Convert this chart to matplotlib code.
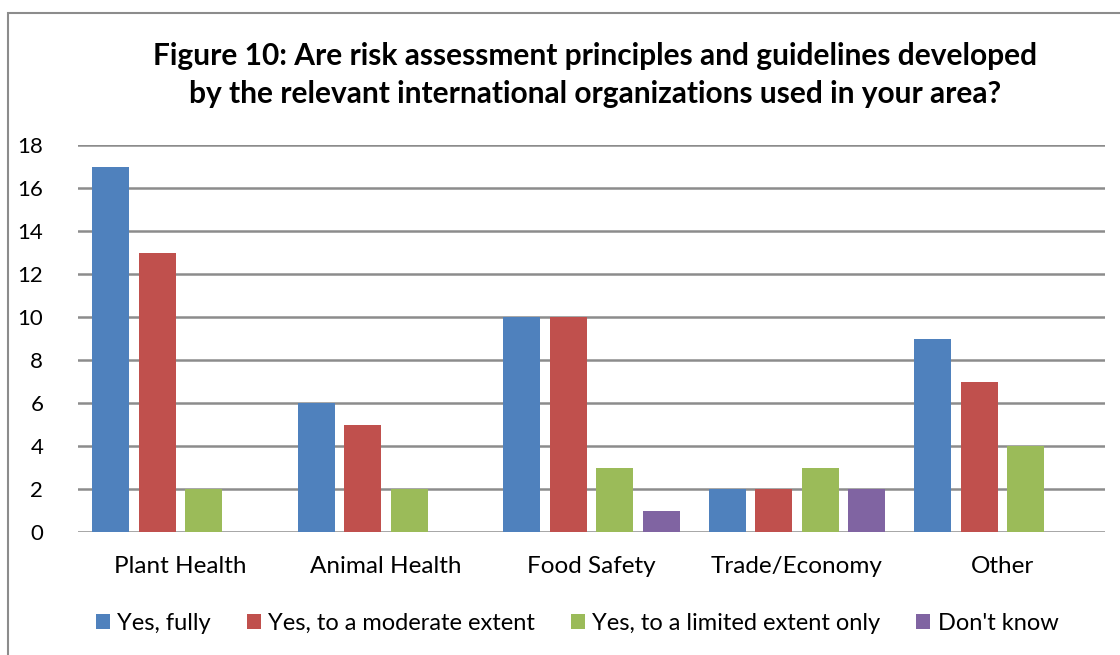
import numpy as np
import matplotlib
matplotlib.use('Agg')
import matplotlib.pyplot as plt
from matplotlib.patches import Rectangle

plt.rcParams['font.family'] = ['Lato', 'DejaVu Sans']

categories = ['Plant Health', 'Animal Health', 'Food Safety', 'Trade/Economy', 'Other']
series_names = ['Yes, fully', 'Yes, to a moderate extent',
                'Yes, to a limited extent only', "Don't know"]
fully = [17, 6, 10, 2, 9]
moderate = [13, 5, 10, 2, 7]
limited = [2, 2, 3, 3, 4]
dont_know = [0, 0, 1, 2, 0]
colors = ['#4F81BD', '#C0504D', '#9BBB59', '#8064A2']

title = ('Figure 10: Are risk assessment principles and guidelines developed\n'
         'by the relevant international organizations used in your area?')

W, H = 1120, 655
fig = plt.figure(figsize=(W / 100, H / 100), dpi=100)

# chart frame (cut off at right and bottom like the source screenshot)
fig.patches.append(Rectangle((8 / W, -0.1), 1.2, 1 - 13 / H + 0.1,
                             transform=fig.transFigure, fill=False,
                             edgecolor='#8C8C8C', linewidth=1.5))

ax = fig.add_axes([78 / W, 1 - 532 / H, (1105 - 78) / W, (532 - 145) / H])

x = np.arange(len(categories))
width = 0.18
pitch = 0.2264
all_series = [fully, moderate, limited, dont_know]
handles = []
for i, (vals, col, name) in enumerate(zip(all_series, colors, series_names)):
    bars = ax.bar(x + (i - 1.5) * pitch, vals, width, color=col, label=name,
                  linewidth=0, zorder=3)
    handles.append(bars)

ax.set_xlim(-0.5, len(categories) - 0.5)
ax.set_ylim(0, 18)
ax.set_yticks(range(0, 19, 2))
ax.yaxis.grid(True, color='#8C8C8C', linewidth=1.8, zorder=0)
ax.set_axisbelow(True)
for s in ax.spines.values():
    s.set_visible(False)
ax.tick_params(axis='y', length=0, pad=25, labelsize=16)
ax.tick_params(axis='x', length=0, pad=17, labelsize=17.5)
ax.set_xticks(x)
ax.set_xticklabels(categories)

fig.text(595 / W, 1 - 75 / H, title, ha='center', va='center',
         fontsize=21.5, fontweight='bold', linespacing=1.4)

fig.legend(handles=handles, labels=series_names, loc='center',
           bbox_to_anchor=(577 / W, 1 - 623 / H), ncol=4, frameon=False,
           fontsize=17, handlelength=0.62, handleheight=0.62,
           handletextpad=0.3, columnspacing=1.5, borderpad=0)

fig.savefig('out.png', dpi=100)
